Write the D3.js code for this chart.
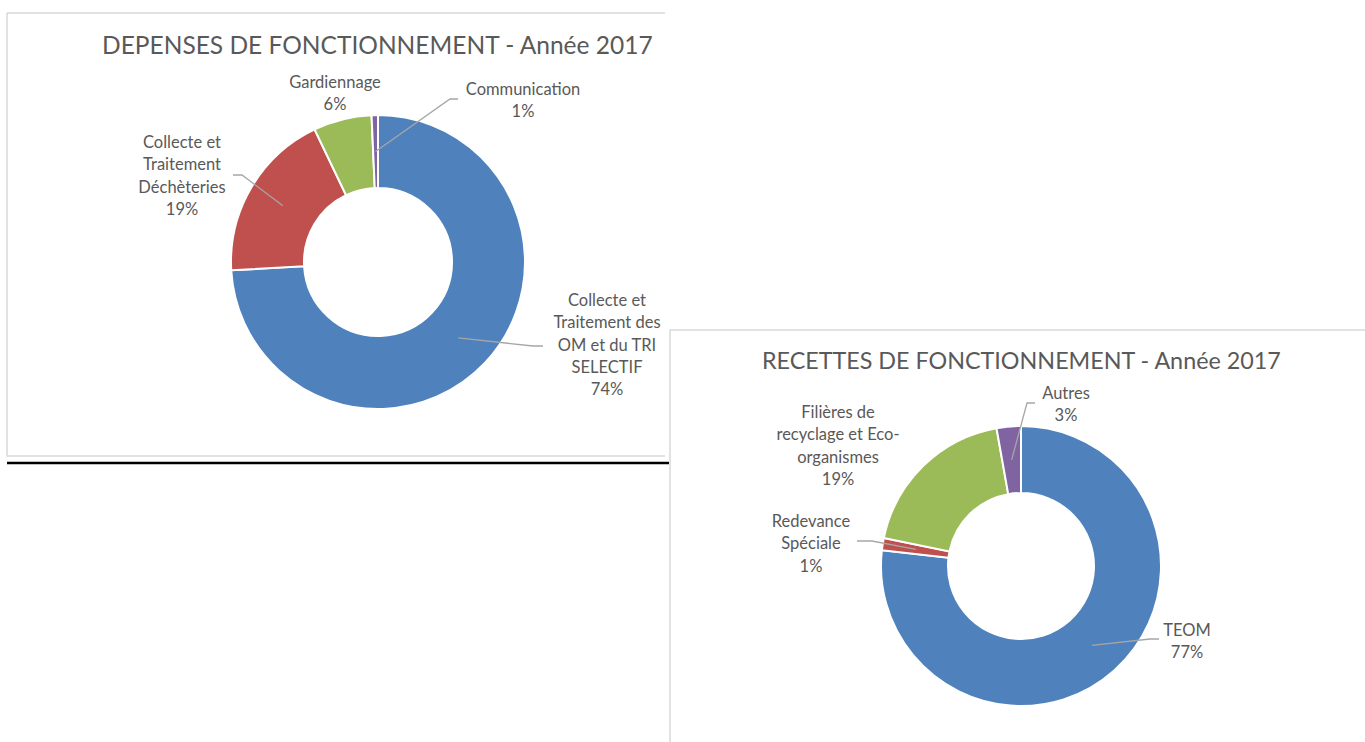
<!DOCTYPE html>
<html>
<head>
<meta charset="utf-8">
<script src="https://cdn.jsdelivr.net/npm/d3@7"></script>
<style>
  body { margin: 0; background: #fff; }
  text { font-family: Lato, "Open Sans", sans-serif; fill: #595959; }
</style>
</head>
<body>
<div id="chart-area"></div>
<script>
// ---- data ----
const depCategories = ["Collecte et\nTraitement des\nOM et du TRI\nSELECTIF", "Collecte et\nTraitement\nDéchèteries", "Gardiennage", "Communication"];
const depValues = [74.1, 18.8, 6.4, 0.7];
const depTitle = "DEPENSES DE FONCTIONNEMENT - Année 2017";

const recCategories = ["TEOM", "Redevance\nSpéciale", "Filières de\nrecyclage et Eco-\norganismes", "Autres"];
const recValues = [76.8, 1.4, 19.0, 2.8];
const recTitle = "RECETTES DE FONCTIONNEMENT - Année 2017";

const colors = ["#4F81BD", "#C0504D", "#9BBB59", "#8064A2"];

// ---- layout ----
const width = 1365, height = 742;
const lineH = 22.4;

const charts = [
  {
    title: depTitle, categories: depCategories, values: depValues,
    titleX: 102, titleBase: 54, titleW: 551,
    cx: 378, cy: 262, outer: 147, inner: 74,
    // label block centre (x, y of first line) + leader elbow/end relative to chart centre
    labels: [
      { x: 229, y: 38, elbow: [155, 84], end: [165, 84] },
      { x: -196, y: -120, elbow: [-136, -87], end: [-145, -87] },
      { x: -43, y: -180 },
      { x: 145, y: -173, elbow: [72, -163], end: [80, -163] }
    ]
  },
  {
    title: recTitle, categories: recCategories, values: recValues,
    titleX: 762, titleBase: 369, titleW: 519,
    cx: 1021, cy: 566, outer: 140, inner: 73,
    labels: [
      { x: 166, y: 64, elbow: [129, 73], end: [138, 73] },
      { x: -210, y: -45, elbow: [-149, -25], end: [-164, -25] },
      { x: -183, y: -154 },
      { x: 45, y: -173, elbow: [6, -163], end: [14, -163] }
    ]
  }
];

const svg = d3.select("#chart-area")
  .append("svg")
  .attr("width", width)
  .attr("height", height);

// frames
const frame = svg.append("g")
  .attr("fill", "none")
  .attr("stroke", "#d9d9d9")
  .attr("stroke-width", 1.5);
frame.append("path").attr("d", "M7,13 H665 M7,13 V456 H665");
frame.append("path").attr("d", "M670,742 V330 H1365");

svg.append("line")
  .attr("x1", 7).attr("x2", 669)
  .attr("y1", 463).attr("y2", 463)
  .attr("stroke", "#000")
  .attr("stroke-width", 2.5);

charts.forEach(c => {
  const total = d3.sum(c.values);
  const pie = d3.pie().sort(null).value(d => d);
  const arcs = pie(c.values);
  const arc = d3.arc().innerRadius(c.inner).outerRadius(c.outer);
  const pct = d3.format(".0%");

  // title fitted to the width in the picture
  const t = svg.append("text")
    .attr("x", c.titleX)
    .attr("y", c.titleBase)
    .style("font-size", "24px")
    .text(c.title);
  const tw = t.node().getComputedTextLength();
  t.style("font-size", (24 * c.titleW / tw) + "px");

  const g = svg.append("g")
    .attr("transform", `translate(${c.cx},${c.cy})`);

  g.selectAll("path.slice")
    .data(arcs)
    .enter().append("path")
    .attr("class", "slice")
    .attr("d", arc)
    .attr("fill", (d, i) => colors[i])
    .attr("stroke", "#fff")
    .attr("stroke-width", 2);

  // leader lines
  arcs.forEach((d, i) => {
    const L = c.labels[i];
    if (!L.elbow) return;
    const p = arc.centroid(d);
    g.append("polyline")
      .attr("points", [p, L.elbow, L.end].map(q => q.join(",")).join(" "))
      .attr("fill", "none")
      .attr("stroke", "#a6a6a6")
      .attr("stroke-width", 1.3);
  });

  // labels
  arcs.forEach((d, i) => {
    const L = c.labels[i];
    const lines = c.categories[i].split("\n").concat([pct(d.value / total)]);
    const txt = g.append("text")
      .attr("text-anchor", "middle")
      .style("font-size", "16.5px");
    lines.forEach((s, k) => {
      txt.append("tspan")
        .attr("x", L.x)
        .attr("y", L.y + k * lineH)
        .attr("dy", "0.35em")
        .text(s);
    });
  });
});
</script>
</body>
</html>
